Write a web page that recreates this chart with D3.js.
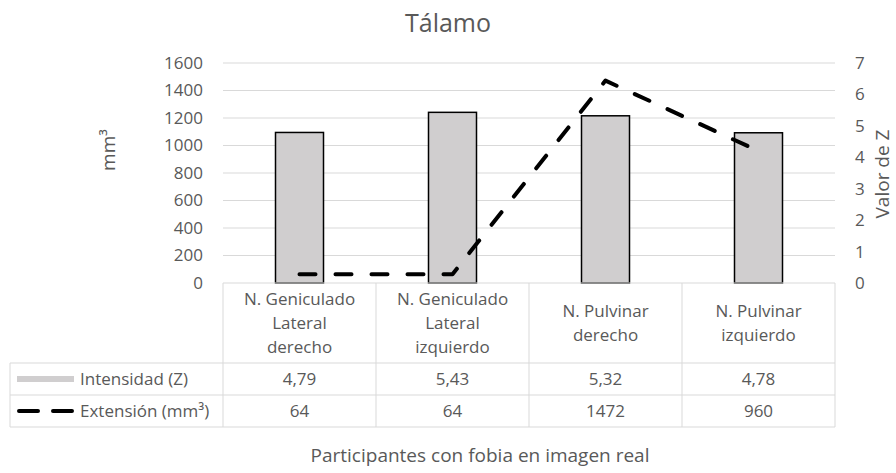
<!DOCTYPE html>
<html>
<head>
<meta charset="utf-8">
<script src="https://cdn.jsdelivr.net/npm/d3@7"></script>
<style>
  body { margin: 0; background: #fff; }
  svg text { font-family: "Open Sans", "Noto Sans", sans-serif; fill: #595959; }
</style>
</head>
<body>
<div id="chart"></div>
<script>
"use strict";

//
//   DATA
//

var categories = [
    ["N. Geniculado", "Lateral", "derecho"],
    ["N. Geniculado", "Lateral", "izquierdo"],
    ["N. Pulvinar", "derecho"],
    ["N. Pulvinar", "izquierdo"]
];
var intensidad = [4.79, 5.43, 5.32, 4.78];   // Valor de Z (right axis)
var extension = [64, 64, 1472, 960];          // mm³ (left axis)
var leftTicks = [0, 200, 400, 600, 800, 1000, 1200, 1400, 1600];
var rightTicks = [0, 1, 2, 3, 4, 5, 6, 7];
var seriesNames = ["Intensidad (Z)", "Extensión (mm³)"];

//
//   LAYOUT
//

var W = 896, H = 473;
var plotLeft = 223, plotRight = 835, plotTop = 63, plotBottom = 283;
var tableLeft = 10;
var headerBottom = 363, rowH = 32;
var GRID = "#d9d9d9";
var BAR_FILL = "#d0cecf";
var TABLE_FONT = "17px";

var svg = d3.select("#chart").append("svg")
    .attr("width", W)
    .attr("height", H);

var scaleX = d3.scaleBand()
    .domain(d3.range(categories.length))
    .range([plotLeft, plotRight])
    .paddingInner(0)
    .paddingOuter(0);
var yLeft = d3.scaleLinear().domain([0, 1600]).range([plotBottom, plotTop]);
var yRight = d3.scaleLinear().domain([0, 7]).range([plotBottom, plotTop]);

// Title
svg.append("text")
    .attr("x", 448).attr("y", 32)
    .attr("text-anchor", "middle")
    .style("font-size", "25px")
    .text("Tálamo");

// Gridlines
svg.append("g").selectAll("line").data(leftTicks.slice(1)).enter().append("line")
    .attr("x1", plotLeft).attr("x2", plotRight)
    .attr("y1", function (d) { return yLeft(d); })
    .attr("y2", function (d) { return yLeft(d); })
    .attr("stroke", GRID).attr("stroke-width", 1);

// Left axis
var axisL = svg.append("g")
    .attr("transform", "translate(" + (plotLeft - 20) + ",0)")
    .call(d3.axisLeft(yLeft).tickValues(leftTicks).tickFormat(d3.format("d")).tickSize(0).tickPadding(0));
axisL.select(".domain").remove();
axisL.selectAll("text").style("font-size", "17px").attr("fill", "#595959");

// Right axis
var axisR = svg.append("g")
    .attr("transform", "translate(" + (plotRight + 20) + ",0)")
    .call(d3.axisRight(yRight).tickValues(rightTicks).tickFormat(d3.format("d")).tickSize(0).tickPadding(0));
axisR.select(".domain").remove();
axisR.selectAll("text").style("font-size", "17px").attr("fill", "#595959");

// Axis titles
svg.append("text")
    .attr("transform", "translate(115,150) rotate(-90)")
    .attr("text-anchor", "middle")
    .style("font-size", "19px")
    .text("mm³");
svg.append("text")
    .attr("transform", "translate(889,174) rotate(-90)")
    .attr("text-anchor", "middle")
    .style("font-size", "19px")
    .text("Valor de Z");

// Bars (Intensidad on right axis)
var barW = 48;
svg.append("g").selectAll("rect").data(intensidad).enter().append("rect")
    .attr("x", function (d, i) { return scaleX(i) + scaleX.bandwidth() / 2 - barW / 2; })
    .attr("y", function (d) { return yRight(d); })
    .attr("width", barW)
    .attr("height", function (d) { return plotBottom - yRight(d); })
    .attr("fill", BAR_FILL)
    .attr("stroke", "#000")
    .attr("stroke-width", 1.5);

// Line (Extensión on left axis)
var line = d3.line()
    .x(function (d, i) { return scaleX(i) + scaleX.bandwidth() / 2; })
    .y(function (d) { return yLeft(d); });
svg.append("path")
    .attr("d", line(extension))
    .attr("fill", "none")
    .attr("stroke", "#000")
    .attr("stroke-width", 4)
    .attr("stroke-linecap", "round")
    .attr("stroke-linejoin", "round")
    .attr("stroke-dasharray", "16,20");

//
//   DATA TABLE
//

var table = svg.append("g");
var tableBottom = headerBottom + rowH * 2;

// horizontal lines
table.append("line")
    .attr("x1", plotLeft).attr("x2", plotRight)
    .attr("y1", plotBottom).attr("y2", plotBottom)
    .attr("stroke", GRID);
[headerBottom, headerBottom + rowH, tableBottom].forEach(function (y) {
    table.append("line")
        .attr("x1", tableLeft).attr("x2", plotRight)
        .attr("y1", y).attr("y2", y)
        .attr("stroke", GRID);
});
// vertical lines
d3.range(categories.length + 1).forEach(function (i) {
    var x = plotLeft + i * scaleX.step();
    table.append("line")
        .attr("x1", x).attr("x2", x)
        .attr("y1", plotBottom).attr("y2", tableBottom)
        .attr("stroke", GRID);
});
table.append("line")
    .attr("x1", tableLeft).attr("x2", tableLeft)
    .attr("y1", headerBottom).attr("y2", tableBottom)
    .attr("stroke", GRID);

// category labels
categories.forEach(function (lines, i) {
    var cx = scaleX(i) + scaleX.bandwidth() / 2;
    var lineH = 24;
    var startY = (plotBottom + headerBottom) / 2 - (lines.length - 1) * lineH / 2;
    lines.forEach(function (t, j) {
        table.append("text")
            .attr("x", cx).attr("y", startY + j * lineH)
            .attr("dy", "0.35em")
            .attr("text-anchor", "middle")
            .style("font-size", TABLE_FONT)
            .text(t);
    });
});

// values
function fmt(v) { return String(v).replace(".", ","); }
[intensidad, extension].forEach(function (vals, r) {
    var cy = headerBottom + rowH * r + rowH / 2;
    vals.forEach(function (v, i) {
        table.append("text")
            .attr("x", scaleX(i) + scaleX.bandwidth() / 2).attr("y", cy)
            .attr("dy", "0.35em")
            .attr("text-anchor", "middle")
            .style("font-size", TABLE_FONT)
            .text(fmt(v));
    });
    table.append("text")
        .attr("x", 80).attr("y", cy)
        .attr("dy", "0.35em")
        .style("font-size", TABLE_FONT)
        .text(seriesNames[r]);
});

// legend keys
table.append("rect")
    .attr("x", 17).attr("y", headerBottom + rowH / 2 - 3)
    .attr("width", 57).attr("height", 6)
    .attr("fill", BAR_FILL);
table.append("line")
    .attr("x1", 19).attr("x2", 72)
    .attr("y1", headerBottom + rowH * 1.5).attr("y2", headerBottom + rowH * 1.5)
    .attr("stroke", "#000").attr("stroke-width", 4)
    .attr("stroke-linecap", "round")
    .attr("stroke-dasharray", "19,15");

// x axis title
svg.append("text")
    .attr("x", 480).attr("y", 462)
    .attr("text-anchor", "middle")
    .style("font-size", "19px")
    .text("Participantes con fobia en imagen real");
</script>
</body>
</html>
